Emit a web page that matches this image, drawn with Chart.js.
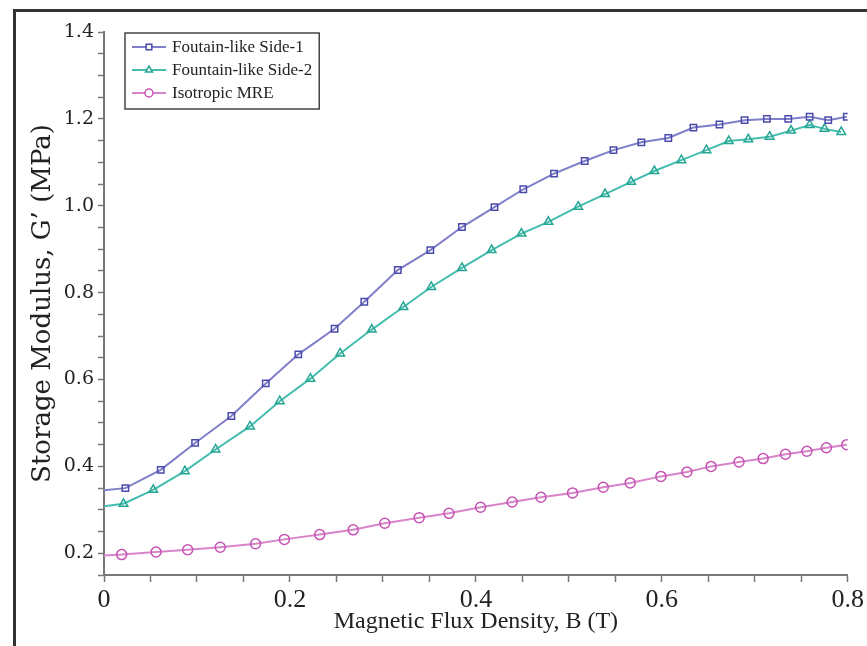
<!DOCTYPE html>
<html>
<head>
<meta charset="utf-8">
<script src="https://cdn.jsdelivr.net/npm/chart.js@4/dist/chart.umd.min.js"></script>
<style>
    body { margin: 0; background: #fff; }
    #wrap { position: relative; width: 867px; height: 646px; overflow: hidden; }
    #frame { position: absolute; left: 13px; top: 9px; width: 900px; height: 700px;
             border-top: 3px solid #333; border-left: 3px solid #333; pointer-events: none; }
</style>
</head>
<body>
<div id="wrap">
    <canvas id="chart" width="867" height="646"></canvas>
    <div id="frame"></div>
</div>
<script>
// Данные
const side1B = [0, 0.023, 0.061, 0.098, 0.137, 0.174, 0.209, 0.248, 0.280, 0.316, 0.351, 0.385, 0.420, 0.451,
    0.484, 0.517, 0.548, 0.578, 0.607, 0.634, 0.662, 0.689, 0.713, 0.736, 0.759, 0.779, 0.799];
const side1G = [0.345, 0.350, 0.392, 0.454, 0.516, 0.591, 0.658, 0.717, 0.779, 0.852, 0.898, 0.951, 0.997, 1.038,
    1.074, 1.103, 1.128, 1.146, 1.156, 1.180, 1.187, 1.197, 1.200, 1.200, 1.205, 1.197, 1.205];

const side2B = [0, 0.021, 0.053, 0.087, 0.120, 0.157, 0.189, 0.222, 0.254, 0.288, 0.322, 0.352, 0.385, 0.417,
    0.449, 0.478, 0.510, 0.539, 0.567, 0.592, 0.621, 0.648, 0.672, 0.693, 0.716, 0.739, 0.759, 0.775, 0.793];
const side2G = [0.308, 0.314, 0.346, 0.389, 0.439, 0.492, 0.550, 0.602, 0.660, 0.715, 0.767, 0.813, 0.857, 0.898,
    0.936, 0.963, 0.998, 1.027, 1.055, 1.080, 1.105, 1.128, 1.149, 1.153, 1.159, 1.173, 1.186, 1.177, 1.170];

const isoB = [0, 0.019, 0.056, 0.090, 0.125, 0.163, 0.194, 0.232, 0.268, 0.302, 0.339, 0.371, 0.405, 0.439,
    0.470, 0.504, 0.537, 0.566, 0.599, 0.627, 0.653, 0.683, 0.709, 0.733, 0.756, 0.777, 0.799];
const isoG = [0.195, 0.197, 0.203, 0.208, 0.214, 0.222, 0.232, 0.243, 0.254, 0.269, 0.282, 0.292, 0.306, 0.318,
    0.329, 0.339, 0.352, 0.362, 0.377, 0.387, 0.400, 0.410, 0.418, 0.428, 0.435, 0.443, 0.450];

const seriesNames = ['Foutain-like Side-1', 'Fountain-like Side-2', 'Isotropic MRE'];
const xRange = [0, 0.8];
const yRange = [0.15, 1.4];

function toPoints(xs, ys) {
    return xs.map((x, i) => ({ x: x, y: ys[i] }));
}

function makeSet(label, xs, ys, line, mark, style, radius) {
    return {
        label: label,
        data: toPoints(xs, ys),
        showLine: true,
        borderColor: line,
        borderWidth: 2,
        pointStyle: style,
        pointRadius: ctx => ctx.dataIndex === 0 ? 0 : radius,
        pointBorderColor: mark,
        pointBackgroundColor: 'rgba(255,255,255,0)',
        pointBorderWidth: 1.5,
        tension: 0
    };
}

// Легенда внутри области графика, в рамке
const boxLegend = {
    id: 'boxLegend',
    afterDatasetsDraw(chart) {
        const ctx = chart.ctx;
        const left = 125, top = 33, rowH = 23, textX = 172;
        ctx.save();
        ctx.font = '17px "Liberation Serif"';
        let maxW = 0;
        chart.data.datasets.forEach(ds => { maxW = Math.max(maxW, ctx.measureText(ds.label).width); });
        ctx.fillStyle = '#fff';
        ctx.fillRect(left, top, textX + maxW + 7 - left, rowH * 3 + 7);
        ctx.strokeStyle = '#444';
        ctx.lineWidth = 1.5;
        ctx.strokeRect(left, top, textX + maxW + 7 - left, rowH * 3 + 7);
        chart.data.datasets.forEach((ds, i) => {
            const y = top + 14 + i * rowH;
            ctx.strokeStyle = ds.borderColor;
            ctx.lineWidth = 2;
            ctx.beginPath();
            ctx.moveTo(132, y);
            ctx.lineTo(166, y);
            ctx.stroke();
            ctx.strokeStyle = ds.pointBorderColor;
            ctx.fillStyle = '#fff';
            ctx.lineWidth = 1.5;
            Chart.helpers.drawPoint(ctx, { pointStyle: ds.pointStyle, radius: 4, rotation: 0, borderWidth: 1.5 }, 149, y);
            ctx.fillStyle = '#222';
            ctx.textBaseline = 'middle';
            ctx.fillText(ds.label, textX, y + 1);
        });
        ctx.restore();
    }
};

const ctx = document.getElementById('chart').getContext('2d');
new Chart(ctx, {
    type: 'scatter',
    data: {
        datasets: [
            makeSet(seriesNames[0], side1B, side1G, '#7f7fc9', '#4a4aaa', 'rect', 4.5),
            makeSet(seriesNames[1], side2B, side2G, '#45bdae', '#25a594', 'triangle', 5),
            makeSet(seriesNames[2], isoB, isoG, '#d884c9', '#c653b4', 'circle', 5)
        ]
    },
    options: {
        responsive: false,
        animation: false,
        layout: { padding: { left: 0, right: 19, top: 32, bottom: 0 } },
        plugins: { legend: { display: false }, tooltip: { enabled: false } },
        scales: {
            x: {
                type: 'linear',
                min: xRange[0],
                max: xRange[1],
                afterFit: s => { s.height = 71; },
                border: { color: '#777', width: 2 },
                grid: { drawOnChartArea: false, color: '#777', tickLength: 7, tickWidth: 1.5 },
                ticks: {
                    stepSize: 0.05,
                    autoSkip: false,
                    maxRotation: 0,
                    padding: 3,
                    color: '#222',
                    font: { family: '"Liberation Serif"', size: 26 },
                    callback: v => {
                        const k = Math.round(v * 100);
                        if (k % 20 !== 0) return '';
                        return k === 0 ? '0' : (k / 100).toFixed(1);
                    }
                },
                title: {
                    display: true,
                    text: 'Magnetic Flux Density, B (T)',
                    color: '#222',
                    font: { family: '"Liberation Serif"', size: 24 },
                    padding: { top: 0, bottom: 10 }
                }
            },
            y: {
                type: 'linear',
                min: yRange[0],
                max: yRange[1],
                afterFit: s => { s.width = 104; },
                border: { color: '#777', width: 2 },
                grid: { drawOnChartArea: false, color: '#777', tickLength: 6, tickWidth: 1.5 },
                ticks: {
                    stepSize: 0.05,
                    autoSkip: false,
                    padding: 4,
                    color: '#222',
                    font: { family: '"DejaVu Serif"', size: 19 },
                    callback: v => {
                        const k = Math.round(v * 100);
                        if (k % 20 !== 0) return '';
                        return (k / 100).toFixed(1);
                    }
                },
                title: {
                    display: true,
                    text: 'Storage Modulus, G’ (MPa)',
                    color: '#222',
                    font: { family: '"DejaVu Serif"', size: 26 },
                    padding: { top: 28, bottom: 0 }
                }
            }
        }
    },
    plugins: [boxLegend]
});
</script>
</body>
</html>
